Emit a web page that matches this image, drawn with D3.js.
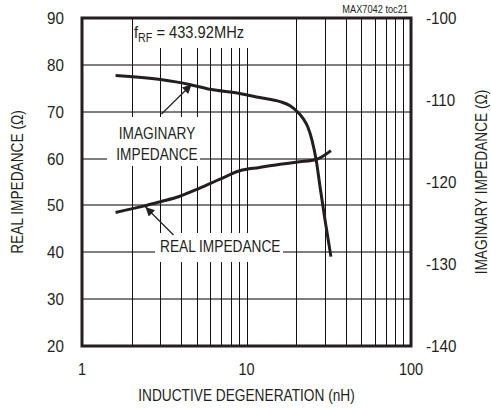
<!DOCTYPE html>
<html><head><meta charset="utf-8">
<script src="https://cdn.jsdelivr.net/npm/d3@7"></script>
<style>
html,body{margin:0;padding:0;background:#fff;}
svg text{font-family:"Liberation Sans",Arial,sans-serif;fill:#231f20;}
</style></head>
<body><svg id="c" width="491" height="408"></svg>
<script>
// ---- data ----
const realX = [1.6, 2.4, 3.0, 3.9, 5.2, 6.9, 9.1, 12, 16, 21, 26.5, 32.6];
const realY = [48.5, 49.9, 50.8, 51.9, 53.7, 55.6, 57.4, 58.1, 58.8, 59.3, 59.8, 61.7];
const imagX = [1.6, 3.0, 4.5, 6.0, 9.1, 12, 16, 18.4, 20.3, 22, 23.6, 25, 26.5, 28, 30, 32.6];
const imagY = [-107.0, -107.5, -108.1, -108.7, -109.2, -109.7, -110.2, -110.7, -111.4, -112.2, -113.3, -114.9, -117.3, -120.6, -124.6, -129.1];
const leftTicks = [20, 30, 40, 50, 60, 70, 80, 90];
const rightTicks = [-140, -130, -120, -110, -100];
const xTicks = [1, 10, 100];
const xGrid = [2,3,4,5,6,7,8,9,10,20,30,40,50,60,70,80,90];

const svg = d3.select("#c");
const L = 82, R = 411, T = 18, B = 346;
const x = d3.scaleLog().domain([1, 100]).range([L, R]);
const yL = d3.scaleLinear().domain([20, 90]).range([B, T]);
const yR = d3.scaleLinear().domain([-140, -100]).range([B, T]);

function txt(px, py, s, o) {
  o = o || {};
  const t = svg.append("text")
    .attr("transform", `translate(${px},${py}) rotate(${o.rot || 0}) scale(${o.sx || 0.83},1)`)
    .attr("text-anchor", o.anchor || "start")
    .attr("font-size", o.fs || 16.5);
  if (o.dy) t.attr("dy", o.dy);
  if (s !== null) t.text(s);
  return t;
}

// grid
svg.append("g").selectAll("line").data(leftTicks).join("line")
  .attr("x1", L).attr("x2", R)
  .attr("y1", d => Math.round(yL(d))).attr("y2", d => Math.round(yL(d)))
  .attr("stroke", "#000").attr("stroke-width", 1);
svg.append("g").selectAll("line").data(xGrid).join("line")
  .attr("x1", d => Math.round(x(d)) + 0.5).attr("x2", d => Math.round(x(d)) + 0.5)
  .attr("y1", T).attr("y2", B)
  .attr("stroke", "#111").attr("stroke-width", 1);

// white label backgrounds
const boxes = [[133, T + 1, 115, 29], [107, 117, 93, 49], [155, 233, 128, 29]];
svg.append("g").selectAll("rect").data(boxes).join("rect")
  .attr("x", d => d[0]).attr("y", d => d[1]).attr("width", d => d[2]).attr("height", d => d[3])
  .attr("fill", "#fff");

// curves
const lineR = d3.line().x(d => x(d[0])).y(d => yL(d[1])).curve(d3.curveMonotoneX);
const lineI = d3.line().x(d => x(d[0])).y(d => yR(d[1])).curve(d3.curveMonotoneX);
svg.append("path").attr("d", lineR(realX.map((v, i) => [v, realY[i]])))
  .attr("fill", "none").attr("stroke", "#231f20").attr("stroke-width", 3);
svg.append("path").attr("d", lineI(imagX.map((v, i) => [v, imagY[i]])))
  .attr("fill", "none").attr("stroke", "#231f20").attr("stroke-width", 3);

// frame
svg.append("rect").attr("x", L).attr("y", T).attr("width", R - L).attr("height", B - T)
  .attr("fill", "none").attr("stroke", "#231f20").attr("stroke-width", 3);

// arrows
svg.append("defs").append("marker").attr("id", "ah").attr("viewBox", "0 0 10 10")
  .attr("refX", 10).attr("refY", 5).attr("markerWidth", 12).attr("markerHeight", 9)
  .attr("markerUnits", "userSpaceOnUse").attr("orient", "auto")
  .append("path").attr("d", "M0,0 L10,5 L0,10 Z").attr("fill", "#231f20");
const arrows = [[161.5, 114, 191.5, 84.5], [173.5, 235, 145.5, 207]];
svg.append("g").selectAll("line").data(arrows).join("line")
  .attr("x1", d => d[0]).attr("y1", d => d[1]).attr("x2", d => d[2]).attr("y2", d => d[3])
  .attr("stroke", "#231f20").attr("stroke-width", 1.2).attr("marker-end", "url(#ah)");

// annotations
const t1 = txt(134, 38, null, {sx: 0.89});
t1.append("tspan").text("f");
t1.append("tspan").attr("font-size", 12).attr("dy", 4).text("RF");
t1.append("tspan").attr("dy", -4).text(" = 433.92MHz");
txt(157, 139, "IMAGINARY", {anchor: "middle"});
txt(157, 160, "IMPEDANCE", {anchor: "middle"});
txt(160, 252, "REAL IMPEDANCE");
txt(408, 13, "MAX7042 toc21", {anchor: "end", fs: 10.5, sx: 0.88});

// axis labels
leftTicks.forEach(d => txt(64, yL(d), String(d), {anchor: "end", sx: 0.92, dy: "0.36em"}));
rightTicks.forEach(d => txt(426, yR(d), String(d), {anchor: "start", sx: 0.92, dy: "0.36em"}));
xTicks.forEach(d => txt(x(d), 375, String(d), {anchor: "middle", sx: 0.88}));

txt((L + R) / 2, 401, "INDUCTIVE DEGENERATION (nH)", {anchor: "middle"});
txt(23, (T + B) / 2, "REAL IMPEDANCE (Ω)", {anchor: "middle", rot: -90});
txt(487, (T + B) / 2, "IMAGINARY IMPEDANCE (Ω)", {anchor: "middle", rot: -90});
</script></body></html>
